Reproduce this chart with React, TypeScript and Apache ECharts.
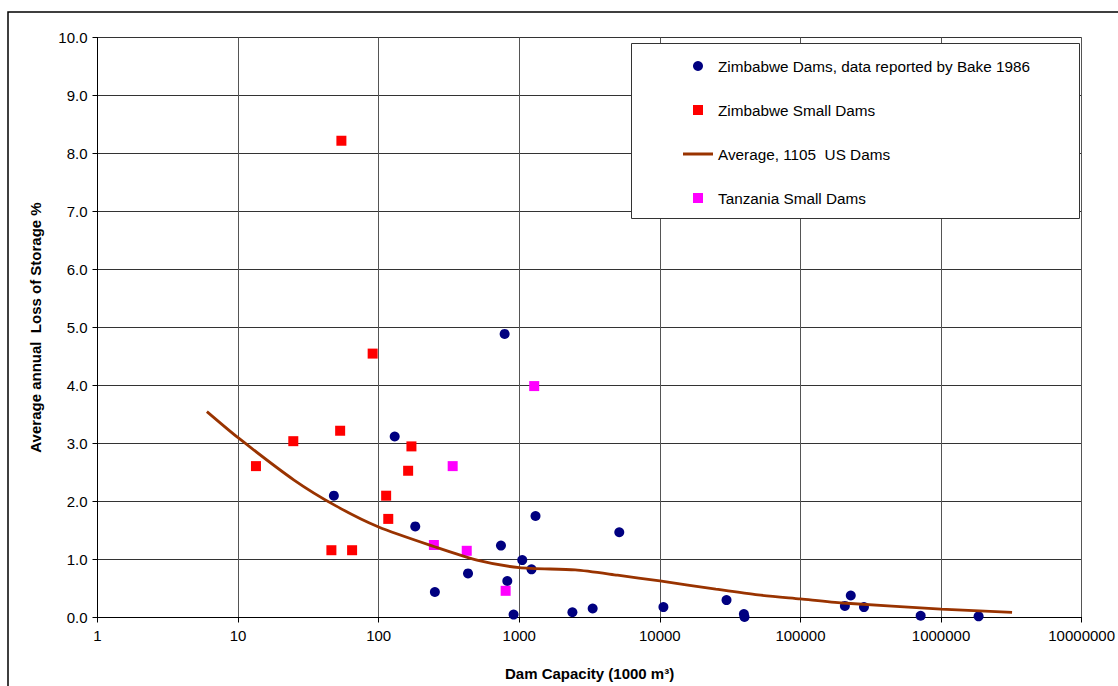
import React, { useEffect, useRef } from "react";
import * as echarts from "echarts";

// Zimbabwe Dams, data reported by Bake 1986
const zimDamsX = [787, 130, 48, 1305, 182, 741, 1050, 1222, 432, 822, 251, 911, 2387, 3327, 5145, 10600, 29800, 39600, 40000, 207000, 228000, 283000, 716000, 1850000];
const zimDamsY = [4.89, 3.12, 2.1, 1.75, 1.57, 1.24, 0.99, 0.83, 0.76, 0.63, 0.44, 0.05, 0.09, 0.155, 1.47, 0.18, 0.3, 0.06, 0.01, 0.2, 0.38, 0.18, 0.03, 0.02];

// Zimbabwe Small Dams
const smallDamsX = [54.3, 90.6, 53.2, 24.7, 13.4, 171, 162, 113, 117, 46.1, 64.7];
const smallDamsY = [8.22, 4.55, 3.22, 3.04, 2.61, 2.95, 2.53, 2.1, 1.7, 1.16, 1.16];

// Average, 1105 US Dams
const usX = [6, 10, 25, 50, 100, 250, 500, 1000, 2500, 5000, 10000, 25000, 50000, 100000, 200000, 1000000, 3200000];
const usY = [3.55, 3.1, 2.37, 1.92, 1.56, 1.22, 0.99, 0.86, 0.82, 0.73, 0.63, 0.49, 0.39, 0.32, 0.25, 0.145, 0.09];

// Tanzania Small Dams
const tanzX = [1277, 336, 247, 423, 800];
const tanzY = [3.99, 2.61, 1.25, 1.15, 0.46];

const names = [
  "Zimbabwe Dams, data reported by Bake 1986",
  "Zimbabwe Small Dams",
  "Average, 1105  US Dams",
  "Tanzania Small Dams",
];

const xTitle = "Dam Capacity (1000 m³)";
const yTitle = "Average annual  Loss of Storage %";

const pairs = (xs: number[], ys: number[]) => xs.map((x, i) => [x, ys[i]]);

export default function App() {
  const ref = useRef<HTMLDivElement>(null);
  useEffect(() => {
    const chart = echarts.init(ref.current!, null, { renderer: "svg" });
    const font = "'Liberation Sans', Arial, sans-serif";
    const square = "path://M0,0h10v10h-10z";
    chart.setOption({
      animation: false,
      backgroundColor: "#fff",
      textStyle: { fontFamily: font },
      grid: { left: 97.5, top: 37.5, right: 32, bottom: 68.5, containLabel: false },
      xAxis: {
        type: "log",
        logBase: 10,
        min: 1,
        max: 10000000,
        name: xTitle,
        nameLocation: "middle",
        nameGap: 48,
        nameTextStyle: { fontWeight: "bold", fontSize: 15, color: "#000", fontFamily: font },
        axisLine: { show: true, onZero: false, lineStyle: { color: "#000", width: 1 } },
        axisTick: { show: true, length: 5, inside: false, lineStyle: { color: "#000" } },
        axisLabel: {
          fontSize: 15,
          color: "#000",
          margin: 10,
          fontFamily: font,
          formatter: (v: number) => String(Math.round(v)),
        },
        splitLine: { show: true, lineStyle: { color: "#555", width: 1 } },
      },
      yAxis: {
        type: "value",
        min: 0,
        max: 10,
        interval: 1,
        name: yTitle,
        nameLocation: "middle",
        nameGap: 55,
        nameTextStyle: { fontWeight: "bold", fontSize: 15, color: "#000", fontFamily: font },
        axisLine: { show: true, lineStyle: { color: "#000", width: 1 } },
        axisTick: { show: true, length: 5, inside: false, lineStyle: { color: "#000" } },
        axisLabel: {
          fontSize: 15,
          color: "#000",
          margin: 10,
          fontFamily: font,
          formatter: (v: number) => v.toFixed(1),
        },
        splitLine: { show: true, lineStyle: { color: "#333", width: 1 } },
      },
      legend: {
        orient: "vertical",
        left: 683,
        top: 58.5,
        padding: 0,
        itemWidth: 30,
        itemHeight: 10,
        itemGap: 29,
        z: 20,
        selectedMode: false,
        textStyle: { fontSize: 15.3, color: "#000", fontFamily: font },
        data: [
          { name: names[0], icon: "circle" },
          { name: names[1], icon: square },
          { name: names[2], icon: "path://M0,0h30v3h-30z" },
          { name: names[3], icon: square },
        ],
      },
      graphic: [
        {
          type: "rect",
          silent: true,
          z: 0,
          shape: { x: 8, y: 12, width: 1200, height: 800 },
          style: { fill: "none", stroke: "#000", lineWidth: 1.5 },
        },
        {
          type: "rect",
          silent: true,
          z: 10,
          shape: { x: 631.5, y: 43.5, width: 448, height: 175 },
          style: { fill: "#fff", stroke: "#333", lineWidth: 1 },
        },
      ],
      series: [
        {
          name: names[0],
          type: "scatter",
          symbol: "circle",
          symbolSize: 10,
          itemStyle: { color: "#000080", opacity: 1 },
          data: pairs(zimDamsX, zimDamsY),
        },
        {
          name: names[1],
          type: "scatter",
          symbol: "rect",
          symbolSize: 10,
          itemStyle: { color: "#FF0000", opacity: 1 },
          data: pairs(smallDamsX, smallDamsY),
        },
        {
          name: names[2],
          type: "line",
          symbol: "none",
          showSymbol: false,
          smooth: 0.25,
          color: "#993300",
          itemStyle: { color: "#993300" },
          lineStyle: { color: "#993300", width: 2.8 },
          data: pairs(usX, usY),
        },
        {
          name: names[3],
          type: "scatter",
          symbol: "rect",
          symbolSize: 10,
          itemStyle: { color: "#FF00FF", opacity: 1 },
          data: pairs(tanzX, tanzY),
        },
      ],
    });
    return () => chart.dispose();
  }, []);
  return (
    <div
      ref={ref}
      style={{ position: "fixed", left: 0, top: 0, width: 1118, height: 686 }}
    />
  );
}
